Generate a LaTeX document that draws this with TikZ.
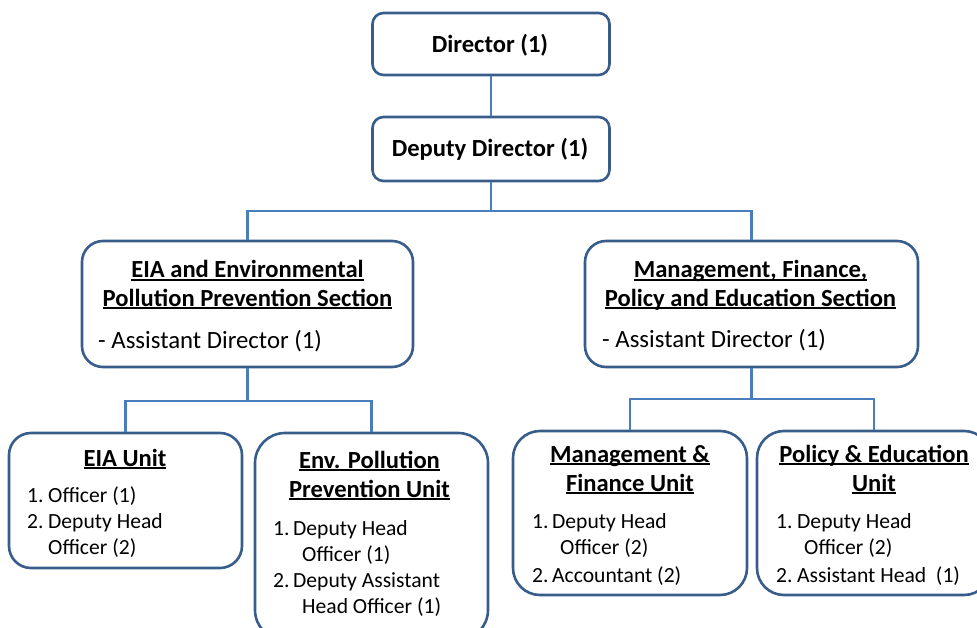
\documentclass[tikz,border=0pt]{standalone}
\usepackage{fontspec}
\setmainfont{Carlito}
\definecolor{boxblue}{HTML}{385D8A}
\definecolor{connblue}{HTML}{4A7EBB}
\newcommand\myul[1]{\setbox0\hbox{#1}\rlap{\rule[-3pt]{\wd0}{1.8pt}}\box0}
\newcommand\titlefont{\fontsize{24.6}{28}\selectfont\bfseries}
\newcommand\bodyfont{\fontsize{24.8}{28}\selectfont}
\newcommand\listfont{\fontsize{21.6}{26}\selectfont}
\begin{document}
\begin{tikzpicture}[x=1pt,y=-1pt,
  box/.style={draw=boxblue, line width=2.6pt, fill=white, rounded corners=#1, inner sep=0pt},
  box/.default=11pt,
  conn/.style={draw=connblue, line width=2.6pt},
  ctr/.style={inner sep=0pt, anchor=base, font=\titlefont},
  lft/.style={inner sep=0pt, anchor=base west, font=\listfont}]
\useasboundingbox (0,0) rectangle (977,628);

% boxes
\node[box=11pt, minimum width=237pt, minimum height=62pt] (dir) at (491,44) {};
\node[box=11pt, minimum width=237pt, minimum height=64pt] (dep) at (491,149) {};
\node[box=21pt, minimum width=331pt, minimum height=126pt] (secL) at (247.5,304) {};
\node[box=21pt, minimum width=333pt, minimum height=126pt] (secR) at (751.5,304) {};
\node[box=22pt, minimum width=233pt, minimum height=135pt] (u1) at (125.5,500.5) {};
\node[box=30pt, minimum width=233pt, minimum height=207pt] (u2) at (371.5,536.5) {};
\node[box=27pt, minimum width=234pt, minimum height=164pt] (u3) at (630,513) {};
\node[box=27pt, minimum width=234pt, minimum height=164pt] (u4) at (874,513) {};

% connectors
\coordinate (j1) at (491,211);
\coordinate (j2) at (247.5,401);
\coordinate (j3) at (751.5,399);
\draw[conn] (dir.south) -- (dep.north);
\draw[conn] (dep.south) -- (j1);
\draw[conn] (secL.north) |- (j1) -| (secR.north);
\draw[conn] (secL.south) -- (j2);
\draw[conn] (u1.north) |- (j2) -| (u2.north);
\draw[conn] (secR.south) -- (j3);
\draw[conn] (u3.north) |- (j3) -| (u4.north);

% texts
\node[ctr] (tdir) at (490,53) {Director (1)};
\node[ctr] (tdep) at (490,157) {Deputy Director (1)};

\node[ctr] (tl1) at (247.5,278) {\myul{EIA and Environmental}};
\node[ctr] (tl2) at (247.5,306) {\myul{Pollution Prevention Section}};
\node[lft, font=\bodyfont] (tl3) at (98,348) {- Assistant Director (1)};

\node[ctr] (tr1) at (750.5,278) {\myul{Management, Finance,}};
\node[ctr] (tr2) at (750.5,306) {\myul{Policy and Education Section}};
\node[lft, font=\bodyfont] (tr3) at (602,347) {- Assistant Director (1)};

\node[ctr] (a0) at (125,466) {\myul{EIA Unit}};
\node[lft] (a1n) at (27,502) {1.};
\node[lft] (a1) at (48,502) {Officer (1)};
\node[lft] (a2n) at (27,528) {2.};
\node[lft] (a2) at (48,528) {Deputy Head};
\node[lft] (a3) at (48,554) {Officer (2)};

\node[ctr] (b0) at (369.5,468) {\myul{Env. Pollution}};
\node[ctr] (b01) at (369.5,497) {\myul{Prevention Unit}};
\node[lft] (b1n) at (273,535) {1.};
\node[lft] (b1) at (293,535) {Deputy Head};
\node[lft] (b2) at (302,561) {Officer (1)};
\node[lft] (b3n) at (273,587) {2.};
\node[lft] (b3) at (293,587) {Deputy Assistant};
\node[lft] (b4) at (302,613) {Head Officer (1)};

\node[ctr] (c0) at (630,462) {\myul{Management \&}};
\node[ctr] (c01) at (630,491) {\myul{Finance Unit}};
\node[lft] (c1n) at (532,528) {1.};
\node[lft] (c1) at (552,528) {Deputy Head};
\node[lft] (c2) at (560,554) {Officer (2)};
\node[lft] (c3n) at (532,582) {2.};
\node[lft] (c3) at (552,582) {Accountant (2)};

\node[ctr] (d0) at (874,462) {\myul{Policy \& Education}};
\node[ctr] (d01) at (874,491) {\myul{Unit}};
\node[lft] (d1n) at (776,528) {1.};
\node[lft] (d1) at (797,528) {Deputy Head};
\node[lft] (d2) at (804,554) {Officer (2)};
\node[lft] (d3n) at (776,582) {2.};
\node[lft] (d3) at (797,582) {Assistant Head\ \ (1)};
\end{tikzpicture}
\end{document}
